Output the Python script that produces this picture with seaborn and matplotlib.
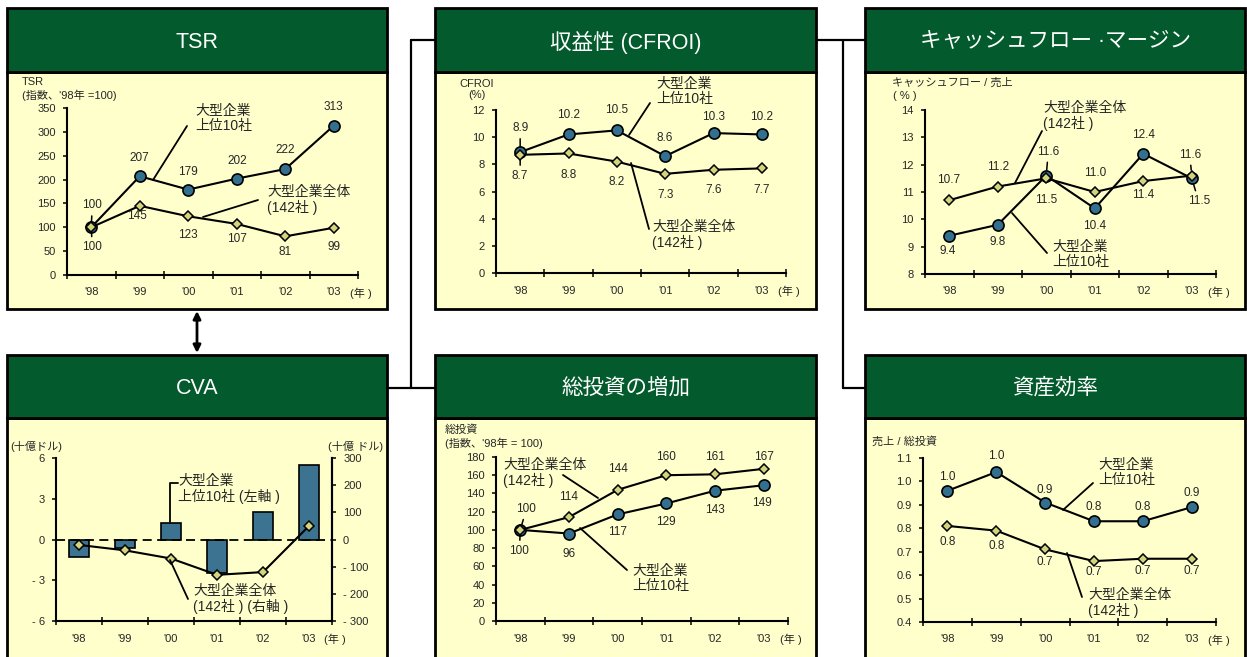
import numpy as np
import matplotlib
matplotlib.use("Agg")
import matplotlib.pyplot as plt
from matplotlib.patches import Rectangle
import seaborn as sns

# ---- data ----
years = ["'98", "'99", "'00", "'01", "'02", "'03"]

tsr_top10 = [100, 207, 179, 202, 222, 313]
tsr_all = [100, 145, 123, 107, 81, 99]

cfroi_top10 = [8.9, 10.2, 10.5, 8.6, 10.3, 10.2]
cfroi_all = [8.7, 8.8, 8.2, 7.3, 7.6, 7.7]

cfm_top10 = [9.4, 9.8, 11.6, 10.4, 12.4, 11.5]
cfm_all = [10.7, 11.2, 11.5, 11.0, 11.4, 11.6]

cva_top10 = [-1.3, -0.6, 1.2, -2.5, 2.0, 5.5]   # 十億ドル (left axis)
cva_all = [-20, -40, -70, -130, -120, 50]       # 十億ドル (right axis)

inv_top10 = [100, 96, 117, 129, 143, 149]
inv_all = [100, 114, 144, 160, 161, 167]

eff_top10 = [0.96, 1.04, 0.91, 0.83, 0.83, 0.89]
eff_all = [0.81, 0.79, 0.71, 0.66, 0.67, 0.67]

# ---- style ----
GREEN = "#035a2c"
YELLOW = "#ffffcc"
BLUE = "#33708f"
BAR = "#3b7390"
DIAMOND = "#d3d57c"

sns.set_style("ticks")
plt.rcParams["font.family"] = ["Liberation Sans", "Noto Sans CJK JP", "DejaVu Sans"]
plt.rcParams["axes.edgecolor"] = "black"

W, H = 1247, 657
fig = plt.figure(figsize=(W / 100, H / 100), dpi=100)
fig.patch.set_facecolor("white")

# background layer (pixel coords): panels + connectors
bg = fig.add_axes([0, 0, 1, 1], zorder=-5)
bg.set_xlim(0, W)
bg.set_ylim(H, 0)
bg.axis("off")

# foreground layer for call-outs
fg = fig.add_axes([0, 0, 1, 1], zorder=20)
fg.set_xlim(0, W)
fg.set_ylim(H, 0)
fg.axis("off")


def panel(x0, y0, x1, y1, hb, title):
    bg.add_patch(Rectangle((x0, hb), x1 - x0, y1 - hb, facecolor=YELLOW, edgecolor="black", lw=2))
    bg.add_patch(Rectangle((x0, y0), x1 - x0, hb - y0, facecolor=GREEN, edgecolor="black", lw=2))
    bg.text((x0 + x1) / 2, (y0 + hb) / 2 + 2, title, color="white", fontsize=15.5, ha="center", va="center")


panel(7, 8, 387, 309, 72, "TSR")
panel(435, 8, 816, 309, 72, "収益性 (CFROI)")
panel(865, 8, 1245, 309, 72, "キャッシュフロー ·マージン")
panel(7, 355, 387, 662, 418, "CVA")
panel(435, 355, 816, 662, 418, "総投資の増加")
panel(865, 355, 1245, 662, 418, "資産効率")

# connectors
for xs, ys in [([411, 435], [40, 40]), ([411, 411], [40, 388]), ([387, 435], [388, 388]),
               ([816, 865], [40, 40]), ([843, 843], [40, 388]), ([843, 865], [388, 388])]:
    bg.plot(xs, ys, color="black", lw=1.6)
bg.annotate("", xy=(197, 311), xytext=(197, 353),
            arrowprops=dict(arrowstyle="<|-|>", color="black", lw=2, mutation_scale=11, shrinkA=0, shrinkB=0))


def make_ax(x0, y0, x1, y1):
    ax = fig.add_axes([x0 / W, 1 - y1 / H, (x1 - x0) / W, (y1 - y0) / H])
    ax.set_facecolor("none")
    return ax


def style_ax(ax, ylim, yticks, ylabels=None):
    ax.set_xlim(-0.5, 5.5)
    ax.set_ylim(*ylim)
    ax.set_xticks(np.arange(-0.5, 6, 1))
    ax.set_xticklabels([])
    ax.set_xticks(range(6), minor=True)
    ax.set_xticklabels(years, minor=True)
    ax.tick_params(axis="x", which="major", direction="inout", length=6, width=1.3)
    ax.tick_params(axis="x", which="minor", length=0, pad=9, labelsize=8)
    ax.set_yticks(yticks)
    if ylabels is not None:
        ax.set_yticklabels(ylabels)
    ax.tick_params(axis="y", direction="out", length=3, width=1.3, pad=5, labelsize=8)
    ax.spines["top"].set_visible(False)
    ax.spines["right"].set_visible(False)
    ax.spines["left"].set_linewidth(1.5)
    ax.spines["bottom"].set_linewidth(1.5)
    ax.set_xlabel("")
    ax.set_ylabel("")
    ax.annotate("(年 )", xy=(1, 0), xycoords="axes fraction", xytext=(3, -18),
                textcoords="offset pixels", ha="center", va="center", fontsize=8)


def draw_series(ax, top, allv):
    x = np.arange(6)
    sns.lineplot(x=x, y=top, ax=ax, color="black", lw=1.5, marker="o", markersize=8,
                 markerfacecolor=BLUE, markeredgecolor="black", markeredgewidth=1.2)
    sns.lineplot(x=x, y=allv, ax=ax, color="black", lw=1.5, marker="D", markersize=5.5,
                 markerfacecolor=DIAMOND, markeredgecolor="black", markeredgewidth=1.1)


def label_points(ax, vals, offsets, fmt):
    for i, (v, off) in enumerate(zip(vals, offsets)):
        lead = len(off) > 2
        ax.annotate(fmt.format(v), xy=(i, v), xytext=(off[0], off[1]), textcoords="offset pixels",
                    ha="center", va="center", fontsize=8.5, annotation_clip=False,
                    arrowprops=dict(arrowstyle="-", color="black", lw=1.1, shrinkA=1, shrinkB=4) if lead else None)


def callout(text, tx, ty, line):
    fg.text(tx, ty, text, fontsize=10, ha="left", va="top", linespacing=1.1)
    fg.plot(line[0], line[1], color="black", lw=1.3)


def ytitle(lines):
    for txt, x, y, ha in lines:
        fg.text(x, y, txt, fontsize=8, ha=ha, va="center")


# ---- TSR ----
ax = make_ax(67, 108, 358, 275)
draw_series(ax, tsr_top10, tsr_all)
style_ax(ax, (0, 350), range(0, 351, 50))
label_points(ax, tsr_top10, [(1, 22, 1), (0, 18), (0, 18), (0, 18), (0, 19), (0, 19)], "{:d}")
label_points(ax, tsr_all, [(1, -20, 1), (-3, -10), (0, -19), (0, -15), (0, -16), (0, -19)], "{:d}")
ytitle([("TSR", 22, 82, "left"), ("(指数、'98年 =100)", 22, 95, "left")])
callout("大型企業\n上位10社", 195, 104, ([187, 153], [126, 180]))
callout("大型企業全体\n(142社 )", 267, 185, ([258, 203], [200, 217]))

# ---- CFROI ----
ax = make_ax(496, 110, 786, 273)
draw_series(ax, cfroi_top10, cfroi_all)
style_ax(ax, (0, 12), range(0, 13, 2))
label_points(ax, cfroi_top10, [(0, 24, 1), (0, 19), (0, 20), (0, 18), (0, 16), (0, 17)], "{:.1f}")
label_points(ax, cfroi_all, [(0, -21, 1), (0, -22), (0, -20), (0, -21), (0, -20), (0, -22)], "{:.1f}")
ytitle([("CFROI", 477, 84, "center"), ("(%)", 477, 95, "center")])
callout("大型企業\n上位10社", 656, 77, ([650, 629], [103, 135]))
callout("大型企業全体\n(142社 )", 652, 220, ([649, 631], [229, 163]))

# ---- cash-flow margin ----
ax = make_ax(925, 110, 1216, 274)
draw_series(ax, cfm_top10, cfm_all)
style_ax(ax, (8, 14), range(8, 15))
label_points(ax, cfm_top10, [(-2, -15), (0, -17), (2, 24, 1), (0, -18), (0, 19), (7, -23, 1)], "{:.1f}")
label_points(ax, cfm_all, [(-1, 20), (0, 20), (0, -22), (0, 19), (0, -14), (-2, 21, 1)], "{:.1f}")
ytitle([("キャッシュフロー / 売上", 892, 83, "left"), ("( % )", 893, 96, "left")])
callout("大型企業全体\n(142社 )", 1043, 101, ([1042, 1015], [131, 183]))
callout("大型企業\n上位10社", 1052, 240, ([1047, 1012], [253, 213]))

# ---- CVA ----
ax = make_ax(56, 458, 332, 621)
sns.barplot(x=years, y=cva_top10, ax=ax, color=BAR, saturation=1, width=0.44,
            edgecolor="black", linewidth=1.2)
ax.axhline(0, color="black", lw=1.3, ls=(0, (5, 3)), zorder=3)
cva_lt = [-6, -3, 0, 3, 6]
style_ax(ax, (-6, 6), cva_lt, [f"- {abs(v)}" if v < 0 else str(v) for v in cva_lt])
ax.spines["right"].set_visible(True)
ax.spines["right"].set_linewidth(1.5)
ax2 = ax.twinx()
sns.lineplot(x=np.arange(6), y=cva_all, ax=ax2, color="black", lw=1.5, marker="D", markersize=5.5,
             markerfacecolor=DIAMOND, markeredgecolor="black", markeredgewidth=1.1)
cva_rt = list(range(-300, 301, 100))
ax2.set_ylim(-300, 300)
ax2.set_yticks(cva_rt)
ax2.set_yticklabels([f"- {abs(v)}" if v < 0 else str(v) for v in cva_rt])
ax2.set_ylabel("")
ax2.tick_params(axis="y", direction="out", length=3, width=1.3, pad=5, labelsize=8)
for s in ["top", "left", "bottom"]:
    ax2.spines[s].set_visible(False)
ax2.spines["right"].set_linewidth(1.5)
ytitle([("(十億ドル)", 10, 446, "left"), ("(十億 ドル)", 356, 446, "center")])
callout("大型企業\n上位10社 (左軸 )", 178, 474, ([178, 170, 170], [483, 483, 522]))
callout("大型企業全体\n(142社 ) (右軸 )", 193, 584, ([188, 170], [599, 560]))

# ---- gross investment ----
ax = make_ax(496, 457, 788, 621)
draw_series(ax, inv_top10, inv_all)
style_ax(ax, (0, 180), range(0, 181, 20))
label_points(ax, inv_top10, [(-1, -21, 1), (0, -20), (0, -18), (0, -19), (0, -19), (-2, -18)], "{:d}")
label_points(ax, inv_all, [(6, 21, 1), (0, 20), (0, 21), (0, 18), (0, 17), (0, 12)], "{:d}")
ytitle([("総投資", 445, 430, "left"), ("(指数、'98年 = 100)", 445, 443, "left")])
callout("大型企業全体\n(142社 )", 503, 458, ([563, 598], [475, 498]))
callout("大型企業\n上位10社", 632, 564, ([627, 580], [570, 528]))

# ---- asset efficiency ----
ax = make_ax(923, 458, 1216, 622)
draw_series(ax, eff_top10, eff_all)
eff_t = [0.4, 0.5, 0.6, 0.7, 0.8, 0.9, 1.0, 1.1]
style_ax(ax, (0.4, 1.1), eff_t, [f"{v:.1f}" for v in eff_t])
label_points(ax, eff_top10, [(0, 14), (0, 16), (0, 13), (0, 14), (0, 14), (0, 14)], "{:.1f}")
label_points(ax, eff_all, [(0, -16), (0, -15), (0, -13), (0, -11), (0, -12), (0, -12)], "{:.1f}")
ytitle([("売上 / 総投資", 872, 441, "left")])
callout("大型企業\n上位10社", 1098, 458, ([1093, 1063], [483, 510]))
callout("大型企業全体\n(142社 )", 1088, 588, ([1082, 1067], [597, 553]))

fig.savefig("out.png", dpi=100, facecolor="white")
